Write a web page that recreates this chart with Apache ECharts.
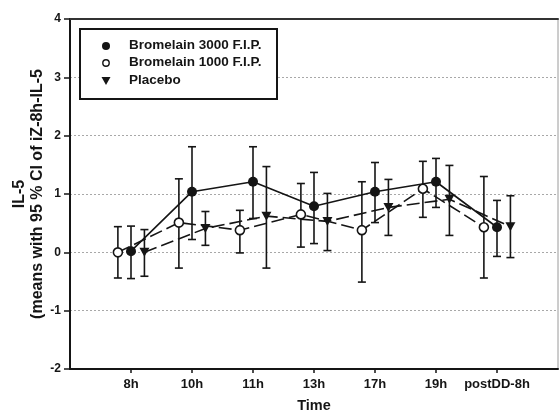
<!DOCTYPE html>
<html>
<head>
<meta charset="utf-8">
<script src="https://cdn.jsdelivr.net/npm/echarts@6/dist/echarts.min.js"></script>
<style>
  html, body { margin: 0; padding: 0; background: #fff; }
  #chart { width: 559px; height: 413px; }
</style>
</head>
<body>
<div id="chart"></div>
<script>
// Time points on the x axis
const categories = ['8h', '10h', '11h', '13h', '17h', '19h', 'postDD-8h'];

// Bromelain 3000 F.I.P.: means and 95 % CI bounds
const b3000Mean  = [0.02, 1.04, 1.21, 0.79, 1.04, 1.21, 0.43];
const b3000Lower = [-0.45, 0.22, 0.58, 0.15, 0.51, 0.77, -0.07];
const b3000Upper = [0.45, 1.81, 1.81, 1.37, 1.54, 1.61, 0.89];

// Bromelain 1000 F.I.P.
const b1000Mean  = [0.00, 0.51, 0.38, 0.65, 0.38, 1.09, 0.43];
const b1000Lower = [-0.44, -0.27, -0.01, 0.09, -0.51, 0.60, -0.44];
const b1000Upper = [0.44, 1.26, 0.72, 1.18, 1.21, 1.56, 1.30];

// Placebo
const placeboMean  = [0.00, 0.41, 0.62, 0.53, 0.77, 0.91, 0.44];
const placeboLower = [-0.41, 0.12, -0.27, 0.03, 0.29, 0.29, -0.09];
const placeboUpper = [0.39, 0.70, 1.47, 1.01, 1.25, 1.49, 0.97];

// Y axis ticks
const yTicks = [-2, -1, 0, 1, 2, 3, 4];

// Horizontal dodge of each group around its time point (axis units)
const DODGE = { b3000: 0, b1000: -0.215, placebo: 0.22 };

const INK = '#151515';
const FONT = 'Liberation Sans, Arial, sans-serif';

function points(mean, dodge) {
  return mean.map((v, i) => [i + 1 + dodge, v]);
}
function bars(lower, upper, dodge) {
  return lower.map((lo, i) => [i + 1 + dodge, lo, upper[i]]);
}

function renderErrorBar(params, api) {
  const x = api.value(0);
  const lo = api.coord([x, api.value(1)]);
  const hi = api.coord([x, api.value(2)]);
  const cap = 4;
  const style = { stroke: INK, lineWidth: 1.6 };
  return {
    type: 'group',
    children: [
      { type: 'line', shape: { x1: lo[0], y1: lo[1], x2: hi[0], y2: hi[1] }, style },
      { type: 'line', shape: { x1: hi[0] - cap, y1: hi[1], x2: hi[0] + cap, y2: hi[1] }, style },
      { type: 'line', shape: { x1: lo[0] - cap, y1: lo[1], x2: lo[0] + cap, y2: lo[1] }, style }
    ]
  };
}

const chart = echarts.init(document.getElementById('chart'), null, { renderer: 'canvas' });

const tickPositions = categories.map((c, i) => i + 1);
const triangleDown = 'path://M0,0 L10,0 L5,9 Z';

chart.setOption({
  animation: false,
  backgroundColor: '#fff',
  textStyle: { fontFamily: FONT },
  grid: {
    left: 70, right: 1, top: 19, bottom: 44,
    outerBoundsMode: 'none', containLabel: false,
    show: true, borderColor: '#9a9a9a', borderWidth: 1
  },
  xAxis: [{
    type: 'value', min: 0, max: 8, interval: 1,
    name: 'Time', nameLocation: 'middle', nameGap: 29,
    nameTextStyle: { fontSize: 14.5, fontWeight: 'bold', color: INK, fontFamily: FONT },
    axisLine: { show: true, onZero: false, lineStyle: { color: INK, width: 2 } },
    axisTick: { show: true, customValues: tickPositions, length: 4, lineStyle: { color: INK, width: 1.5 } },
    axisLabel: {
      customValues: tickPositions, margin: 9,
      formatter: v => categories[Math.round(v) - 1] || '',
      fontSize: 13, fontWeight: 'bold', color: INK, fontFamily: FONT
    },
    splitLine: { show: false }
  }, {
    type: 'value', min: 0, max: 8, position: 'top',
    axisLine: { show: true, onZero: false, lineStyle: { color: '#333', width: 2 } },
    axisTick: { show: false }, axisLabel: { show: false }, splitLine: { show: false }
  }],
  yAxis: {
    type: 'value', min: yTicks[0], max: yTicks[yTicks.length - 1], interval: 1,
    name: 'IL-5\n(means with 95 % CI of iZ-8h-IL-5',
    nameLocation: 'middle', nameGap: 23, nameRotate: 90, nameMoveOverlap: false,
    nameTextStyle: { fontSize: 16, fontWeight: 'bold', color: INK, lineHeight: 18, fontFamily: FONT },
    axisLine: { show: true, onZero: false, lineStyle: { color: INK, width: 2 } },
    axisTick: { show: true, length: 6, lineStyle: { color: INK, width: 1.5 } },
    axisLabel: { margin: 9, fontSize: 12, fontWeight: 'bold', color: INK, fontFamily: FONT },
    splitLine: { show: true, lineStyle: { color: '#a8a8a8', type: [2, 2], width: 1 } }
  },
  graphic: [
    {
      type: 'rect', left: 79, top: 28, z: 100,
      shape: { width: 197, height: 70 },
      style: { fill: '#fff', stroke: INK, lineWidth: 2 }
    },
    { type: 'circle', shape: { cx: 106, cy: 46, r: 4 }, style: { fill: INK }, z: 101 },
    { type: 'circle', shape: { cx: 106, cy: 63, r: 3.2 }, style: { fill: '#fff', stroke: INK, lineWidth: 1.4 }, z: 101 },
    { type: 'polygon', shape: { points: [[101.5, 77], [110.5, 77], [106, 85]] }, style: { fill: INK }, z: 101 },
    { type: 'text', left: 129, top: 38, z: 101,
      style: { text: 'Bromelain 3000 F.I.P.', font: 'bold 13.5px ' + FONT, fill: INK } },
    { type: 'text', left: 129, top: 55, z: 101,
      style: { text: 'Bromelain 1000 F.I.P.', font: 'bold 13.5px ' + FONT, fill: INK } },
    { type: 'text', left: 129, top: 73, z: 101,
      style: { text: 'Placebo', font: 'bold 13.5px ' + FONT, fill: INK } }
  ],
  series: [
    // error bars
    { type: 'custom', renderItem: renderErrorBar, data: bars(b3000Lower, b3000Upper, DODGE.b3000), z: 2 },
    { type: 'custom', renderItem: renderErrorBar, data: bars(b1000Lower, b1000Upper, DODGE.b1000), z: 2 },
    { type: 'custom', renderItem: renderErrorBar, data: bars(placeboLower, placeboUpper, DODGE.placebo), z: 2 },
    // mean profiles
    {
      name: 'Bromelain 3000 F.I.P.', type: 'line', data: points(b3000Mean, DODGE.b3000), z: 4,
      symbol: 'circle', symbolSize: 10,
      itemStyle: { color: INK },
      lineStyle: { color: INK, width: 1.6 }
    },
    {
      name: 'Bromelain 1000 F.I.P.', type: 'line', data: points(b1000Mean, DODGE.b1000), z: 4,
      symbol: 'circle', symbolSize: 9,
      itemStyle: { color: '#fff', borderColor: INK, borderWidth: 1.6 },
      lineStyle: { color: INK, width: 1.6, type: [13, 5] }
    },
    {
      name: 'Placebo', type: 'line', data: points(placeboMean, DODGE.placebo), z: 4,
      symbol: triangleDown, symbolSize: [10, 9],
      itemStyle: { color: INK },
      lineStyle: { color: INK, width: 1.6, type: [13, 5] }
    }
  ]
});
</script>
</body>
</html>
